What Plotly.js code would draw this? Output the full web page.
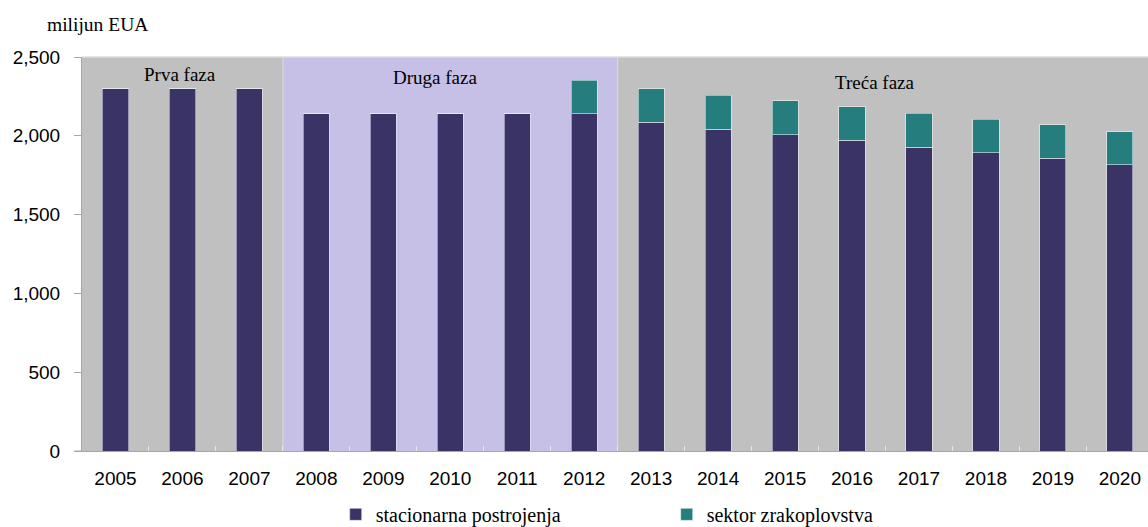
<!DOCTYPE html>
<html>
<head>
<meta charset="utf-8">
<script src="https://cdn.plot.ly/plotly-3.0.1.min.js"></script>
<style>html,body{margin:0;padding:0;background:#fff;overflow:hidden}</style>
</head>
<body>
<div id="chart" style="width:1148px;height:527px"></div>
<script>
const years = ["2005","2006","2007","2008","2009","2010","2011","2012","2013","2014","2015","2016","2017","2018","2019","2020"];
const stationary = [2298,2298,2298,2140,2140,2140,2140,2140,2087,2043,2007,1972,1927,1893,1859,1815];
const aviation = [0,0,0,0,0,0,0,213,213,215,214,213,215,213,212,211];
const seriesNames = ["stacionarna postrojenja","sektor zrakoplovstva"];
const phaseNames = ["Prva faza","Druga faza","Treća faza"];
const yTicks = [0,500,1000,1500,2000,2500];

const serif = "Liberation Serif";
const sans = "Liberation Sans";

const traces = [
  {type:"bar", x:years, y:stationary, name:seriesNames[0],
   marker:{color:"#3a3366", line:{color:"rgba(235,235,245,0.55)", width:1}}},
  {type:"bar", x:years, y:aviation, name:seriesNames[1],
   marker:{color:"#267d7e", line:{color:"rgba(235,245,245,0.55)", width:1}}}
];

const layout = {
  width:1148, height:527,
  margin:{l:82, r:0, t:57, b:76, autoexpand:false},
  paper_bgcolor:"#ffffff", plot_bgcolor:"#c0c0c0",
  barmode:"stack", bargap:0.61,
  showlegend:true,
  legend:{orientation:"h", traceorder:"normal", x:0.238, xanchor:"left",
          yref:"container", y:0.024, yanchor:"middle",
          font:{family:serif, size:20, color:"#000"}, entrywidth:286, entrywidthmode:"pixels",
          bgcolor:"rgba(0,0,0,0)"},
  xaxis:{type:"category", range:[-0.5,15.42], fixedrange:true,
         showline:true, linecolor:"#a6a6a6", linewidth:1,
         ticks:"inside", tickson:"boundaries", ticklen:5, tickcolor:"#e6e6e6",
         tickfont:{family:sans, size:19, color:"#000"}, ticklabelstandoff:10,
         showgrid:false, zeroline:false},
  yaxis:{range:[0,2500], tickvals:yTicks, tickformat:",", fixedrange:true,
         showline:true, linecolor:"#a6a6a6", linewidth:1,
         ticks:"outside", ticklen:7, tickcolor:"#a6a6a6",
         tickfont:{family:sans, size:19, color:"#000"}, ticklabelstandoff:10,
         showgrid:false, zeroline:false},
  shapes:[
    {type:"rect", xref:"x", yref:"paper", x0:2.5, x1:7.5, y0:0, y1:1, fillcolor:"#c6bfe6", line:{width:0}, layer:"below"},
    {type:"line", xref:"x", yref:"paper", x0:2.5, x1:2.5, y0:0, y1:1, line:{color:"#dcdcdc", width:1}, layer:"below"},
    {type:"line", xref:"x", yref:"paper", x0:7.5, x1:7.5, y0:0, y1:1, line:{color:"#dcdcdc", width:1}, layer:"below"},
    {type:"line", xref:"paper", yref:"paper", x0:0, x1:1, y0:1, y1:1, line:{color:"#dcdcdc", width:1.5}, layer:"below"},
    {type:"line", xref:"paper", yref:"paper", x0:-0.007, x1:0, y0:0, y1:0, line:{color:"#a6a6a6", width:1}}
  ],
  annotations:[
    {text:phaseNames[0], xref:"x", yref:"y", x:0.97, y:2392, showarrow:false, font:{family:serif, size:19, color:"#000"}},
    {text:phaseNames[1], xref:"x", yref:"y", x:4.77, y:2373, showarrow:false, font:{family:serif, size:19, color:"#000"}},
    {text:phaseNames[2], xref:"x", yref:"y", x:11.34, y:2341, showarrow:false, font:{family:serif, size:19, color:"#000"}},
    {text:"milijun EUA", xref:"paper", yref:"paper", x:-0.035, y:1.0, xanchor:"left", yanchor:"middle", yshift:33,
     showarrow:false, font:{family:serif, size:19.5, color:"#000"}}
  ]
};

Plotly.newPlot("chart", traces, layout, {displayModeBar:false, staticPlot:true});
</script>
</body>
</html>
